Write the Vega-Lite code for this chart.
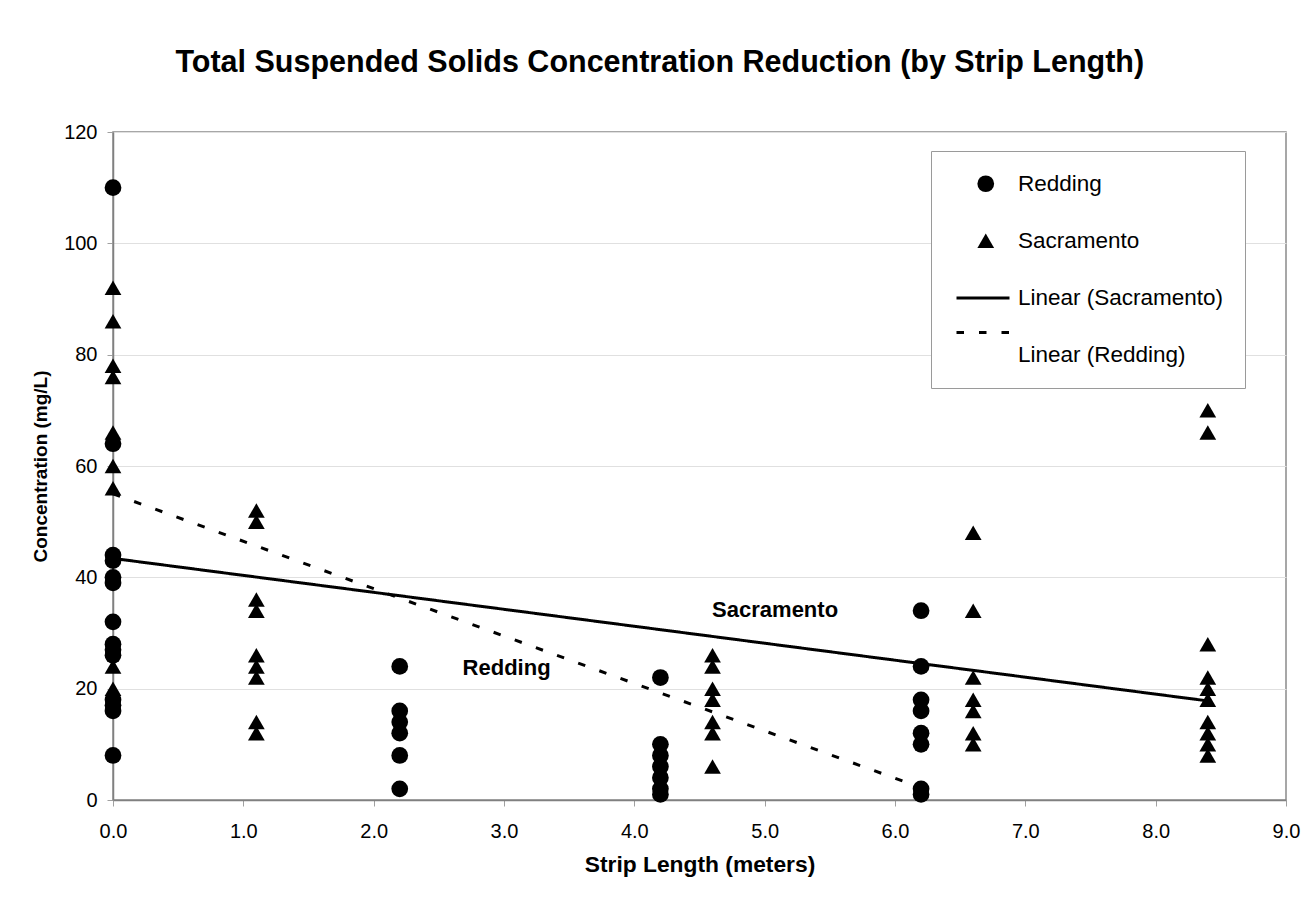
{
  "$schema": "https://vega.github.io/schema/vega-lite/v6.json",
  "autosize": "none",
  "width": 1173,
  "height": 668,
  "padding": {"left": 113, "top": 132, "right": 29, "bottom": 103},
  "background": "white",
  "title": {
    "text": "Total Suspended Solids Concentration Reduction (by Strip Length)",
    "font": "Liberation Sans",
    "fontSize": 30.5,
    "fontWeight": "bold",
    "color": "black",
    "anchor": "middle",
    "frame": "bounds",
    "offset": 44,
    "dx": -6
  },
  "config": {
    "view": {"stroke": "#8a8a8a", "strokeWidth": 1.5},
    "font": "Liberation Sans",
    "axis": {
      "labelFont": "Liberation Sans",
      "labelFontSize": 20,
      "labelColor": "black",
      "labelFlush": false,
      "titleFont": "Liberation Sans",
      "titleFontWeight": "bold",
      "titleColor": "black",
      "domainColor": "#808080",
      "domainWidth": 1.5,
      "tickColor": "#a0a0a0",
      "tickSize": 6,
      "gridColor": "#e0e0e0",
      "gridWidth": 1
    }
  },
  "datasets": {
    "pts": [
      {"x": 0, "y": 110, "series": "Redding"},
      {"x": 0, "y": 64, "series": "Redding"},
      {"x": 0, "y": 44, "series": "Redding"},
      {"x": 0, "y": 43, "series": "Redding"},
      {"x": 0, "y": 40, "series": "Redding"},
      {"x": 0, "y": 39, "series": "Redding"},
      {"x": 0, "y": 32, "series": "Redding"},
      {"x": 0, "y": 28, "series": "Redding"},
      {"x": 0, "y": 27, "series": "Redding"},
      {"x": 0, "y": 26, "series": "Redding"},
      {"x": 0, "y": 18, "series": "Redding"},
      {"x": 0, "y": 17, "series": "Redding"},
      {"x": 0, "y": 16, "series": "Redding"},
      {"x": 0, "y": 8, "series": "Redding"},
      {"x": 2.2, "y": 24, "series": "Redding"},
      {"x": 2.2, "y": 16, "series": "Redding"},
      {"x": 2.2, "y": 14, "series": "Redding"},
      {"x": 2.2, "y": 12, "series": "Redding"},
      {"x": 2.2, "y": 8, "series": "Redding"},
      {"x": 2.2, "y": 2, "series": "Redding"},
      {"x": 4.2, "y": 22, "series": "Redding"},
      {"x": 4.2, "y": 10, "series": "Redding"},
      {"x": 4.2, "y": 8, "series": "Redding"},
      {"x": 4.2, "y": 6, "series": "Redding"},
      {"x": 4.2, "y": 4, "series": "Redding"},
      {"x": 4.2, "y": 2, "series": "Redding"},
      {"x": 4.2, "y": 1, "series": "Redding"},
      {"x": 6.2, "y": 34, "series": "Redding"},
      {"x": 6.2, "y": 24, "series": "Redding"},
      {"x": 6.2, "y": 18, "series": "Redding"},
      {"x": 6.2, "y": 16, "series": "Redding"},
      {"x": 6.2, "y": 12, "series": "Redding"},
      {"x": 6.2, "y": 10, "series": "Redding"},
      {"x": 6.2, "y": 2, "series": "Redding"},
      {"x": 6.2, "y": 1, "series": "Redding"},
      {"x": 0, "y": 92, "series": "Sacramento"},
      {"x": 0, "y": 86, "series": "Sacramento"},
      {"x": 0, "y": 78, "series": "Sacramento"},
      {"x": 0, "y": 76, "series": "Sacramento"},
      {"x": 0, "y": 66, "series": "Sacramento"},
      {"x": 0, "y": 60, "series": "Sacramento"},
      {"x": 0, "y": 56, "series": "Sacramento"},
      {"x": 0, "y": 24, "series": "Sacramento"},
      {"x": 0, "y": 20, "series": "Sacramento"},
      {"x": 1.1, "y": 52, "series": "Sacramento"},
      {"x": 1.1, "y": 50, "series": "Sacramento"},
      {"x": 1.1, "y": 36, "series": "Sacramento"},
      {"x": 1.1, "y": 34, "series": "Sacramento"},
      {"x": 1.1, "y": 26, "series": "Sacramento"},
      {"x": 1.1, "y": 24, "series": "Sacramento"},
      {"x": 1.1, "y": 22, "series": "Sacramento"},
      {"x": 1.1, "y": 14, "series": "Sacramento"},
      {"x": 1.1, "y": 12, "series": "Sacramento"},
      {"x": 4.6, "y": 26, "series": "Sacramento"},
      {"x": 4.6, "y": 24, "series": "Sacramento"},
      {"x": 4.6, "y": 20, "series": "Sacramento"},
      {"x": 4.6, "y": 18, "series": "Sacramento"},
      {"x": 4.6, "y": 14, "series": "Sacramento"},
      {"x": 4.6, "y": 12, "series": "Sacramento"},
      {"x": 4.6, "y": 6, "series": "Sacramento"},
      {"x": 6.6, "y": 48, "series": "Sacramento"},
      {"x": 6.6, "y": 34, "series": "Sacramento"},
      {"x": 6.6, "y": 22, "series": "Sacramento"},
      {"x": 6.6, "y": 18, "series": "Sacramento"},
      {"x": 6.6, "y": 16, "series": "Sacramento"},
      {"x": 6.6, "y": 12, "series": "Sacramento"},
      {"x": 6.6, "y": 10, "series": "Sacramento"},
      {"x": 8.4, "y": 70, "series": "Sacramento"},
      {"x": 8.4, "y": 66, "series": "Sacramento"},
      {"x": 8.4, "y": 28, "series": "Sacramento"},
      {"x": 8.4, "y": 22, "series": "Sacramento"},
      {"x": 8.4, "y": 20, "series": "Sacramento"},
      {"x": 8.4, "y": 18, "series": "Sacramento"},
      {"x": 8.4, "y": 14, "series": "Sacramento"},
      {"x": 8.4, "y": 12, "series": "Sacramento"},
      {"x": 8.4, "y": 10, "series": "Sacramento"},
      {"x": 8.4, "y": 8, "series": "Sacramento"}
    ],
    "trend": [
      {"x": 0, "y": 43.4, "fit": "Linear (Sacramento)"},
      {"x": 8.4, "y": 17.8, "fit": "Linear (Sacramento)"},
      {"x": 0, "y": 55, "fit": "Linear (Redding)"},
      {"x": 6.2, "y": 2.2, "fit": "Linear (Redding)"}
    ],
    "notes": [
      {"x": 5.08, "y": 34.1, "label": "Sacramento"},
      {"x": 3.02, "y": 23.7, "label": "Redding"}
    ]
  },
  "layer": [
    {
      "data": {"name": "trend"},
      "mark": {"type": "line", "color": "black", "strokeWidth": 3, "strokeCap": "butt"},
      "encoding": {
        "x": {"field": "x", "type": "quantitative"},
        "y": {"field": "y", "type": "quantitative"},
        "detail": {"field": "fit"},
        "strokeDash": {
          "field": "fit",
          "type": "nominal",
          "scale": {"domain": ["Linear (Sacramento)", "Linear (Redding)"], "range": [[1, 0], [7.5, 15]]},
          "legend": {
            "title": null,
            "orient": "none",
            "legendX": 842,
            "legendY": 138,
            "zindex": 5,
            "padding": 0,
            "symbolType": "stroke",
            "symbolSize": 2809,
            "symbolStrokeWidth": 3,
            "symbolStrokeColor": "black",
            "symbolOffset": 0,
            "labelExpr": "''",
            "labelFontSize": 10,
            "rowPadding": 0.5
          }
        }
      }
    },
    {
      "data": {"name": "pts"},
      "mark": {"type": "point", "filled": true, "color": "black", "opacity": 1, "size": 280},
      "encoding": {
        "x": {
          "field": "x",
          "type": "quantitative",
          "scale": {"domain": [0, 9], "nice": false, "zero": true},
          "axis": {
            "title": "Strip Length (meters)",
            "titleFontSize": 22.8,
            "values": [0, 1, 2, 3, 4, 5, 6, 7, 8, 9],
            "format": ".1f",
            "grid": false,
            "labelPadding": 15,
            "titlePadding": 12
          }
        },
        "y": {
          "field": "y",
          "type": "quantitative",
          "scale": {"domain": [0, 120], "nice": false},
          "axis": {
            "title": "Concentration (mg/L)",
            "titleFontSize": 19,
            "values": [0, 20, 40, 60, 80, 100, 120],
            "grid": true,
            "labelPadding": 10,
            "titlePadding": 13
          }
        },
        "shape": {
          "field": "series",
          "type": "nominal",
          "scale": {
            "domain": ["Redding", "Sacramento", "Linear (Sacramento)", "Linear (Redding)"],
            "range": ["circle", "triangle-up", "M0,0", "M0,0"]
          },
          "legend": {
            "title": null,
            "orient": "none",
            "legendX": 818,
            "legendY": 19,
            "zindex": 1,
            "padding": 21.5,
            "strokeColor": "#9a9a9a",
            "fillColor": "white",
            "symbolSize": 280,
            "symbolOffset": 22,
            "labelOffset": 21,
            "labelLimit": 400,
            "labelFont": "Liberation Sans",
            "labelFontSize": 22.5,
            "labelColor": "black",
            "rowPadding": 34
          }
        }
      }
    },
    {
      "data": {"name": "notes"},
      "mark": {"type": "text", "font": "Liberation Sans", "fontSize": 22, "fontWeight": "bold", "color": "black", "align": "center", "baseline": "middle"},
      "encoding": {
        "x": {"field": "x", "type": "quantitative"},
        "y": {"field": "y", "type": "quantitative"},
        "text": {"field": "label"}
      }
    }
  ]
}
